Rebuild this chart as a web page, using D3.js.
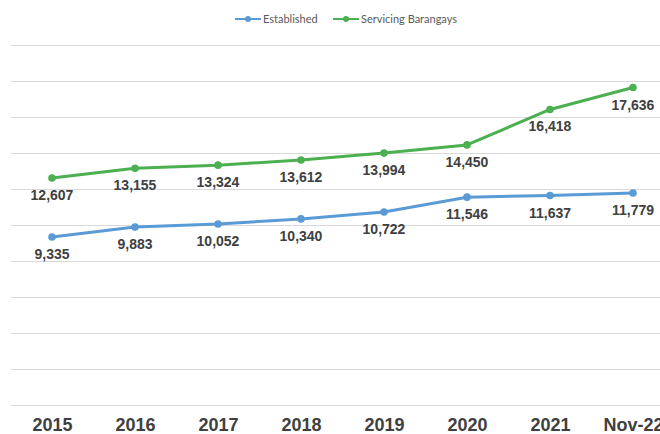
<!DOCTYPE html>
<html>
<head>
<meta charset="utf-8">
<script src="https://cdn.jsdelivr.net/npm/d3@7"></script>
<style>
  html, body { margin: 0; padding: 0; background: #fff; }
  svg { display: block; }
</style>
</head>
<body>
<svg id="chart" width="660" height="434"></svg>
<script>
// ==================== DATA ====================
const categories = ['2015', '2016', '2017', '2018', '2019', '2020', '2021', 'Nov-22'];
const established = [9335, 9883, 10052, 10340, 10722, 11546, 11637, 11779];
const servicing = [12607, 13155, 13324, 13612, 13994, 14450, 16418, 17636];
const seriesNames = ['Established', 'Servicing Barangays'];
const seriesColors = ['#5b9bd5', '#4caf50'];

const width = 660, height = 434;
const svg = d3.select('#chart');

// ==================== SCALES ====================
const x = d3.scalePoint()
  .domain(categories)
  .range([52, 633]);

const y = d3.scaleLinear()
  .domain([0, 20000])
  .range([405, 45]);

// gridlines
svg.append('g')
  .selectAll('line')
  .data(y.ticks(10))
  .enter()
  .append('line')
  .attr('x1', 11)
  .attr('x2', width)
  .attr('y1', d => Math.round(y(d)) + 0.5)
  .attr('y2', d => Math.round(y(d)) + 0.5)
  .attr('stroke', '#d9d9d9')
  .attr('stroke-width', 1);

// x axis labels
const xAxis = svg.append('g')
  .attr('transform', `translate(0,${y(0)})`)
  .call(d3.axisBottom(x).tickSize(0).tickPadding(0));
xAxis.select('.domain').remove();
xAxis.selectAll('text')
  .attr('y', 26)
  .attr('dy', 0)
  .attr('fill', '#404040')
  .style('font-family', 'Arial, "Liberation Sans", sans-serif')
  .style('font-size', '18px')
  .style('font-weight', 'bold');

// ==================== LINES ====================
const line = d3.line()
  .x((d, i) => x(categories[i]))
  .y(d => y(d));

[established, servicing].forEach((vals, s) => {
  const g = svg.append('g');
  g.append('path')
    .datum(vals)
    .attr('d', line)
    .attr('fill', 'none')
    .attr('stroke', seriesColors[s])
    .attr('stroke-width', 3)
    .attr('stroke-linejoin', 'round');

  g.selectAll('circle')
    .data(vals)
    .enter()
    .append('circle')
    .attr('cx', (d, i) => x(categories[i]))
    .attr('cy', d => y(d))
    .attr('r', 3.8)
    .attr('fill', seriesColors[s]);

  g.selectAll('text')
    .data(vals)
    .enter()
    .append('text')
    .attr('x', (d, i) => x(categories[i]))
    .attr('y', d => y(d) + 22)
    .attr('text-anchor', 'middle')
    .attr('fill', '#404040')
    .style('font-family', 'Arial, "Liberation Sans", sans-serif')
    .style('font-size', '14px')
    .style('font-weight', 'bold')
    .text(d => d3.format(',')(d));
});

// ==================== LEGEND ====================
const legend = svg.append('g').attr('transform', 'translate(235,19)');
const legendOffsets = [0, 98];
seriesNames.forEach((name, s) => {
  const lg = legend.append('g').attr('transform', `translate(${legendOffsets[s]},0)`);
  lg.append('line')
    .attr('x1', 0).attr('x2', 26)
    .attr('y1', 0).attr('y2', 0)
    .attr('stroke', seriesColors[s])
    .attr('stroke-width', 2);
  lg.append('circle')
    .attr('cx', 13).attr('cy', 0).attr('r', 3)
    .attr('fill', seriesColors[s]);
  lg.append('text')
    .attr('x', 28)
    .attr('y', 4)
    .attr('fill', '#595959')
    .style('font-family', 'Lato, "Open Sans", sans-serif')
    .style('font-size', '11px')
    .text(name);
});
</script>
</body>
</html>
